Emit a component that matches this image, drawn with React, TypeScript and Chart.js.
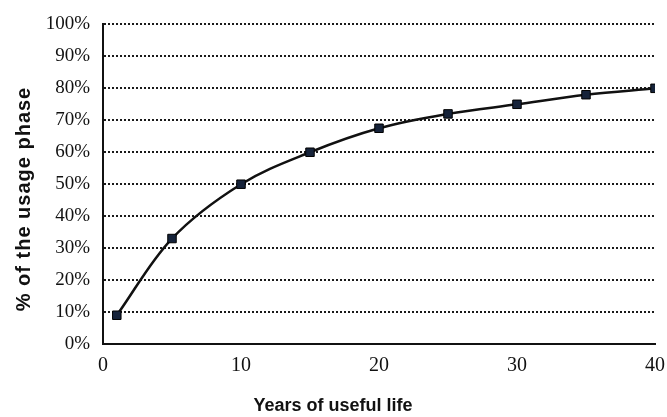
import React, { useEffect, useRef } from "react";
import { Chart, registerables } from "chart.js";

Chart.register(...registerables);

const years = [1, 5, 10, 15, 20, 25, 30, 35, 40];
const usageShare = [9, 33, 50, 60, 67.5, 72, 75, 78, 80];
const xTicks = [0, 10, 20, 30, 40];
const yTicks = [0, 10, 20, 30, 40, 50, 60, 70, 80, 90, 100];
const xTitle = "Years of useful life";
const yTitle = "% of the usage phase";

const titlesPlugin = {
  id: "axisTitlesCustom",
  afterDraw(chart: any) {
    const ctx = chart.ctx;
    ctx.save();
    ctx.fillStyle = "#111";
    ctx.textAlign = "center";
    ctx.textBaseline = "middle";
    ctx.font = "bold 18px 'Liberation Sans', Arial, sans-serif";
    ctx.fillText(xTitle, 333, 406);
    ctx.translate(24, 199);
    ctx.rotate(-Math.PI / 2);
    ctx.font = "bold 20px 'Liberation Sans', Arial, sans-serif";
    try {
      (ctx as any).letterSpacing = "1px";
    } catch (e) {}
    ctx.fillText(yTitle, 0, 0);
    ctx.restore();
  },
};

export default function App() {
  const ref = useRef<HTMLCanvasElement>(null);
  useEffect(() => {
    if (!ref.current) return;
    const chart = new Chart(ref.current, {
      type: "line",
      data: {
        datasets: [
          {
            data: years.map((x, i) => ({ x, y: usageShare[i] })),
            borderColor: "#111",
            borderWidth: 2.5,
            tension: 0.35,
            pointStyle: "rect",
            pointRadius: 6,
            pointBackgroundColor: "#16233a",
            pointBorderColor: "#000",
            pointBorderWidth: 1,
            fill: false,
          },
        ],
      },
      options: {
        animation: false,
        responsive: false,
        layout: { padding: { top: 20, right: 12, left: 0, bottom: 0 } },
        plugins: { legend: { display: false }, tooltip: { enabled: false }, title: { display: false } },
        scales: {
          x: {
            type: "linear",
            min: 0,
            max: 40,
            afterBuildTicks: (s: any) => {
              s.ticks = xTicks.map((v) => ({ value: v }));
            },
            afterFit: (s: any) => {
              s.height = 73;
              s.paddingRight = 0;
              s.paddingLeft = 0;
            },
            grid: { display: false, drawTicks: false },
            border: { display: true, color: "#111", width: 2 },
            ticks: {
              padding: 10,
              color: "#111",
              font: { family: "'Liberation Serif', 'Times New Roman', serif", size: 20 },
            },
          },
          y: {
            min: 0,
            max: 100,
            afterBuildTicks: (s: any) => {
              s.ticks = yTicks.map((v) => ({ value: v }));
            },
            afterFit: (s: any) => {
              s.width = 103;
            },
            grid: {
              drawTicks: false,
              color: (c: any) => (c.tick && c.tick.value === 0 ? "rgba(0,0,0,0)" : "#1a1a1a"),
              lineWidth: 2,
            },
            border: { display: true, color: "#111", width: 2, dash: [2, 2] },
            ticks: {
              padding: 13,
              color: "#111",
              font: { family: "'Liberation Serif', 'Times New Roman', serif", size: 19 },
              callback: (v: any) => v + "%",
            },
          },
        },
      },
      plugins: [titlesPlugin],
    } as any);
    return () => chart.destroy();
  }, []);
  return (
    <div style={{ position: "fixed", left: 0, top: 0, width: 667, height: 417, background: "#fff" }}>
      <canvas ref={ref} width={667} height={417} />
    </div>
  );
}
